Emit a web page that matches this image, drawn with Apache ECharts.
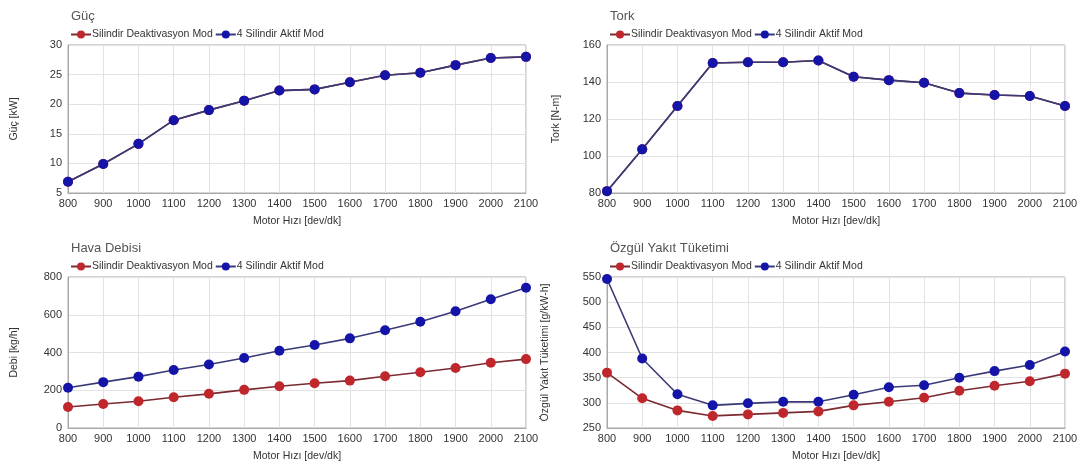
<!DOCTYPE html>
<html>
<head>
<meta charset="utf-8">
<script src="https://cdn.jsdelivr.net/npm/echarts@6/dist/echarts.min.js"></script>
<style>
  html, body { margin: 0; padding: 0; background: #ffffff; }
  #chart { width: 1086px; height: 468px; }
</style>
</head>
<body>
<div id="chart"></div>
<script>
// Engine speed [dev/dk]
const rpm = [800, 900, 1000, 1100, 1200, 1300, 1400, 1500, 1600, 1700, 1800, 1900, 2000, 2100];

// Power [kW] – both modes coincide
const gucDeaktif = [6.9, 9.9, 13.3, 17.3, 19.0, 20.6, 22.3, 22.5, 23.7, 24.9, 25.3, 26.6, 27.8, 28.0];
const gucAktif   = [6.9, 9.9, 13.3, 17.3, 19.0, 20.6, 22.3, 22.5, 23.7, 24.9, 25.3, 26.6, 27.8, 28.0];

// Torque [N-m] – both modes coincide
const torkDeaktif = [81, 103.6, 127, 150.3, 150.7, 150.7, 151.6, 142.8, 141, 139.6, 134, 133, 132.4, 127];
const torkAktif   = [81, 103.6, 127, 150.3, 150.7, 150.7, 151.6, 142.8, 141, 139.6, 134, 133, 132.4, 127];

// Air mass flow [kg/h]
const debiDeaktif = [111, 127, 142, 163, 181, 202, 221, 237, 251, 274, 295, 318, 346, 365];
const debiAktif   = [213, 243, 272, 307, 336, 371, 409, 440, 475, 518, 563, 619, 682, 743];

// Brake specific fuel consumption [g/kW-h]
const ozgulDeaktif = [360, 309, 285, 274, 277, 280, 283, 295, 302, 310, 324, 334, 343, 358];
const ozgulAktif   = [546, 388, 317, 295, 299, 302, 302, 316, 331, 335, 350, 363, 375, 402];

// Panel titles, axis names and y ranges
const panelTitles = ['Güç', 'Tork', 'Hava Debisi', 'Özgül Yakıt Tüketimi'];
const yNames = ['Güç [kW]', 'Tork [N-m]', 'Debi [kg/h]', 'Özgül Yakıt Tüketimi [g/kW-h]'];
const yMin = [5, 80, 0, 250];
const yMax = [30, 160, 800, 550];
const yStep = [5, 20, 200, 50];
const xName = 'Motor Hızı [dev/dk]';
const seriesNames = ['Silindir Deaktivasyon Mod', '4 Silindir Aktif Mod'];

const panelData = [
  [gucDeaktif, gucAktif],
  [torkDeaktif, torkAktif],
  [debiDeaktif, debiAktif],
  [ozgulDeaktif, ozgulAktif]
];

const grids = [
  { left: 68,  top: 45,  width: 458, height: 148 },
  { left: 607, top: 45,  width: 458, height: 148 },
  { left: 68,  top: 277, width: 458, height: 151 },
  { left: 607, top: 277, width: 458, height: 151 }
];

const yNameGap = [48, 45, 48, 56];

const redMarker = '#c0272d', redLine = '#7a2a30';
const blueMarker = '#1414a8', blueLine = '#3a3a78';
const font = 'Liberation Sans, Arial, sans-serif';

const option = {
  animation: false,
  backgroundColor: '#ffffff',
  title: [], legend: [], grid: [], xAxis: [], yAxis: [], series: []
};

grids.forEach((g, i) => {
  option.grid.push(Object.assign({
    show: true, borderColor: '#a8a8a8', borderWidth: 1, backgroundColor: '#ffffff'
  }, g));

  option.title.push({
    text: panelTitles[i],
    left: g.left - 2,
    top: g.top - 40,
    textStyle: { fontFamily: font, fontSize: 13, fontWeight: 'normal', color: '#555' }
  });

  option.legend.push({
    data: seriesNames.map(n => ({ name: n + '\u200b'.repeat(i) })),
    left: g.left + 2,
    top: g.top - 16,
    itemWidth: 20,
    itemHeight: 10,
    itemGap: 2,
    padding: 0,
    selectedMode: false,
    textStyle: { fontFamily: font, fontSize: 10.5, color: '#333', padding: [0, 0, 0, -4] }
  });

  option.xAxis.push({
    type: 'value', gridIndex: i,
    min: 800, max: 2100, interval: 100,
    name: xName, nameLocation: 'middle', nameGap: 23,
    nameTextStyle: { fontFamily: font, fontSize: 10.5, color: '#333' },
    axisLine: { show: true, lineStyle: { color: '#a8a8a8' } },
    axisTick: { show: false },
    axisLabel: { fontFamily: font, fontSize: 11, color: '#333', margin: 5, formatter: v => String(v) },
    splitLine: { show: true, lineStyle: { color: '#e2e2e2', width: 1 } }
  });

  option.yAxis.push({
    type: 'value', gridIndex: i,
    min: yMin[i], max: yMax[i], interval: yStep[i],
    name: yNames[i], nameLocation: 'middle', nameGap: yNameGap[i],
    nameTextStyle: { fontFamily: font, fontSize: 10.5, color: '#333' },
    axisLine: { show: true, lineStyle: { color: '#a8a8a8' } },
    axisTick: { show: false },
    axisLabel: { fontFamily: font, fontSize: 11, color: '#333', margin: 6, formatter: v => String(v) },
    splitLine: { show: true, lineStyle: { color: '#e2e2e2', width: 1 } }
  });

  const [deaktif, aktif] = panelData[i];
  [[deaktif, redMarker, redLine], [aktif, blueMarker, blueLine]].forEach(([vals, mc, lc], k) => {
    option.series.push({
      name: seriesNames[k] + '\u200b'.repeat(i),
      type: 'line',
      xAxisIndex: i, yAxisIndex: i,
      data: rpm.map((r, j) => [r, vals[j]]),
      symbol: 'circle',
      symbolSize: 10,
      showSymbol: true,
      lineStyle: { color: lc, width: 1.6 },
      itemStyle: { color: mc },
      z: 2 + k
    });
  });
});

const chart = echarts.init(document.getElementById('chart'), null, { renderer: 'canvas' });
chart.setOption(option);
</script>
</body>
</html>
